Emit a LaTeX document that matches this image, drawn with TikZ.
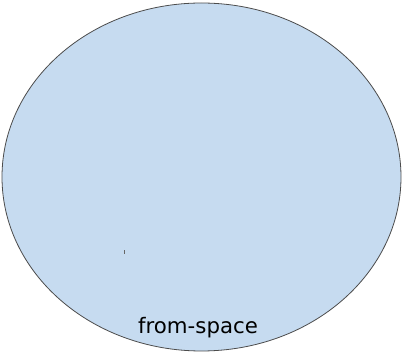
\documentclass[tikz,border=0pt]{standalone}
\usepackage{fontspec}
\setmainfont{DejaVu Sans}
\definecolor{spacefill}{RGB}{198,219,240}
\tikzset{
    spacearea/.style={draw=black!70, fill=spacefill, line width=0.8pt},
    spacelabel/.style={font=\fontsize{21.3}{24}\selectfont, inner sep=0pt, anchor=base}
}
\begin{document}
\begin{tikzpicture}[x=1pt, y=-1pt]
    \useasboundingbox (0,0) rectangle (402,352);
    
    % Semi-space
    \draw[spacearea] (201.5,177) ellipse (199.5 and 174);
    \coordinate (mark) at (124.5,250.5);
    \draw[black!60, line width=0.6pt] (mark) -- ++(0,3.5);
    
    % Label
    \node[spacelabel] (fromspace) at (198,333.5) {from-space};
\end{tikzpicture}
\end{document}
